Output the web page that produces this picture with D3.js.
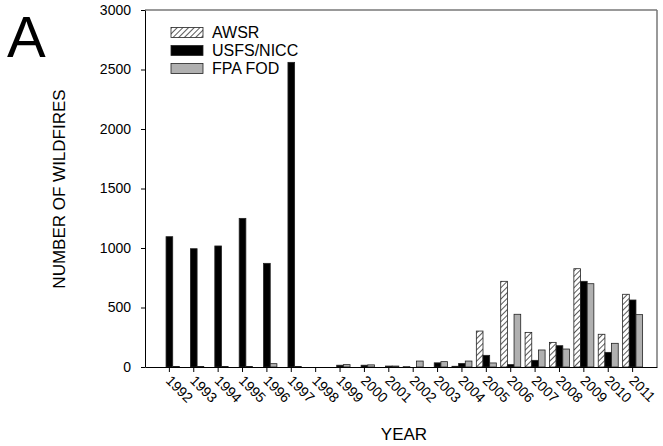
<!DOCTYPE html>
<html>
<head>
<meta charset="utf-8">
<script src="https://cdn.jsdelivr.net/npm/d3@7"></script>
<style>
  body { margin: 0; background: #fff; }
  text { font-family: "Liberation Sans", Arial, sans-serif; }
</style>
</head>
<body>
<svg id="chart" width="663" height="446"></svg>
<script>
var years = ["1992","1993","1994","1995","1996","1997","1998","1999","2000","2001",
             "2002","2003","2004","2005","2006","2007","2008","2009","2010","2011"];
var seriesNames = ["AWSR", "USFS/NICC", "FPA FOD"];
var awsr = [0, 0, 0, 0, 0, 0, 0, 0, 0, 0, 3, 0, 6, 302, 720, 291, 207, 826, 275, 611];
var usfs = [1095, 994, 1017, 1249, 871, 2560, 0, 15, 15, 8, 0, 35, 30, 98, 20, 56, 179, 720, 123, 563];
var fpa  = [5, 5, 5, 5, 28, 5, 0, 20, 18, 8, 50, 45, 50, 34, 443, 143, 151, 700, 199, 440];
var yTicks = [0, 500, 1000, 1500, 2000, 2500, 3000];

var svg = d3.select("#chart");
var margin = {top: 10, right: 6, bottom: 79, left: 145};
var width = 663 - margin.left - margin.right,
    height = 446 - margin.top - margin.bottom;

// hatch pattern for AWSR
var defs = svg.append("defs");
var pat = defs.append("pattern")
    .attr("id", "hatch")
    .attr("patternUnits", "userSpaceOnUse")
    .attr("width", 4).attr("height", 4)
    .attr("patternTransform", "rotate(45)");
pat.append("rect").attr("width", 4).attr("height", 4).attr("fill", "#fff");
pat.append("line").attr("x1", 0).attr("y1", 0).attr("x2", 0).attr("y2", 4)
    .attr("stroke", "#000").attr("stroke-width", 1.3);

var fills = {"AWSR": "url(#hatch)", "USFS/NICC": "#000", "FPA FOD": "#b0b0b0"};

var data = years.map(function(y, i) {
  return {year: y, "AWSR": awsr[i], "USFS/NICC": usfs[i], "FPA FOD": fpa[i]};
});

var g = svg.append("g").attr("transform", "translate(" + margin.left + "," + margin.top + ")");

var x0 = d3.scaleBand().domain(years).range([0, width]).paddingInner(0).paddingOuter(0.5);
var x1 = d3.scaleBand().domain(seriesNames).range([0, 20]);
var y = d3.scaleLinear().domain([0, 3000]).range([height, 0]);

// frame (top/right)
g.append("line").attr("x1", 0).attr("x2", width).attr("y1", 0).attr("y2", 0)
  .attr("stroke", "#777").attr("stroke-width", 1.5);
g.append("line").attr("x1", width).attr("x2", width).attr("y1", 0).attr("y2", height)
  .attr("stroke", "#777").attr("stroke-width", 1.5);

// bars
var groups = g.selectAll(".grp").data(data).enter().append("g")
  .attr("class", "grp")
  .attr("transform", function(d) { return "translate(" + (x0(d.year) + x0.bandwidth() / 2 - 10) + ",0)"; });

groups.selectAll("rect")
  .data(function(d) { return seriesNames.map(function(k) { return {key: k, value: d[k]}; }); })
  .enter().append("rect")
  .filter(function(d) { return d.value > 0; })
  .attr("x", function(d) { return x1(d.key); })
  .attr("y", function(d) { return y(d.value); })
  .attr("width", x1.bandwidth())
  .attr("height", function(d) { return height - y(d.value); })
  .attr("fill", function(d) { return fills[d.key]; })
  .attr("stroke", "#222")
  .attr("stroke-width", 0.8);

// x axis
var xAxis = g.append("g")
  .attr("transform", "translate(0," + height + ")")
  .call(d3.axisBottom(x0).tickSize(5).tickSizeOuter(0));
xAxis.select(".domain").attr("stroke", "#000");
xAxis.selectAll("text")
  .attr("font-size", "14px")
  .attr("fill", "#000")
  .style("text-anchor", "start")
  .attr("x", 0).attr("y", 0)
  .attr("dy", "0.35em")
  .attr("transform", "translate(-1,11) rotate(45)");

// y axis
var yAxis = g.append("g")
  .call(d3.axisLeft(y).tickValues(yTicks).tickFormat(d3.format("d"))
    .tickSize(4).tickSizeOuter(0).tickPadding(10));
yAxis.selectAll("text").attr("font-size", "14px").attr("fill", "#000");

// axis titles
svg.append("text")
  .attr("x", 404).attr("y", 440)
  .attr("text-anchor", "middle")
  .attr("font-size", "17px")
  .text("YEAR");

svg.append("text")
  .attr("transform", "translate(65,189) rotate(-90)")
  .attr("text-anchor", "middle")
  .attr("font-size", "17px")
  .text("NUMBER OF WILDFIRES");

svg.append("text")
  .attr("x", 7).attr("y", 57)
  .attr("font-size", "58px")
  .text("A");

// legend
var legend = svg.selectAll(".legend").data(seriesNames).enter().append("g")
  .attr("class", "legend")
  .attr("transform", function(d, i) { return "translate(171," + (27.5 + i * 18) + ")"; });
legend.append("rect")
  .attr("width", 32).attr("height", 10)
  .attr("fill", function(d) { return fills[d]; })
  .attr("stroke", "#222").attr("stroke-width", 0.8);
legend.append("text")
  .attr("x", 41).attr("y", 5)
  .attr("dy", "0.36em")
  .attr("font-size", "16px")
  .text(function(d) { return d; });
</script>
</body>
</html>
